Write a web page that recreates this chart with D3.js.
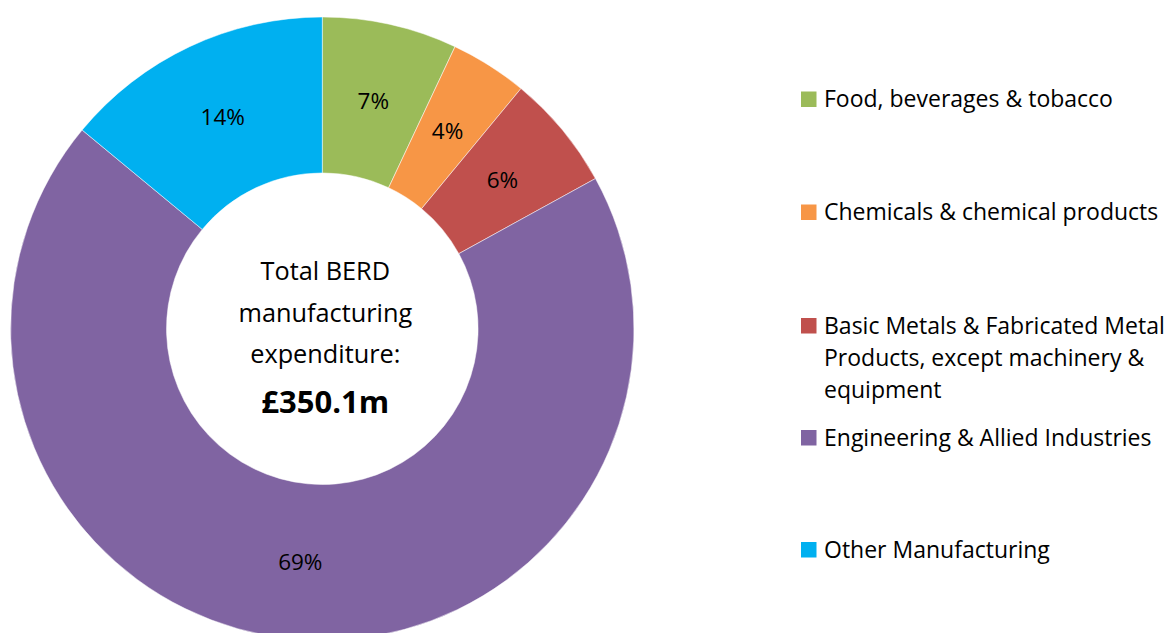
<!DOCTYPE html>
<html>
<head>
<meta charset="utf-8">
<script src="https://cdn.jsdelivr.net/npm/d3@7"></script>
<style>
  html, body { margin: 0; padding: 0; background: #fff; }
  svg text { font-family: "Open Sans", Lato, sans-serif; fill: #000; }
</style>
</head>
<body>
<svg id="chart" width="1175" height="633"></svg>
<script>
// Sector shares of BERD manufacturing expenditure (%)
const sectors = [
  "Food, beverages & tobacco",
  "Chemicals & chemical products",
  "Basic Metals & Fabricated Metal Products, except machinery & equipment",
  "Engineering & Allied Industries",
  "Other Manufacturing"
];
const shares = [7, 4, 6, 69, 14];
const sectorColors = ["#9BBB59", "#F79646", "#C0504D", "#8064A2", "#00B0F0"];
// Legend lines (long names wrap over several lines)
const legendLines = [
  ["Food, beverages & tobacco"],
  ["Chemicals & chemical products"],
  ["Basic Metals & Fabricated Metal", "Products, except machinery &", "equipment"],
  ["Engineering & Allied Industries"],
  ["Other Manufacturing"]
];
const centreLines = ["Total BERD", "manufacturing", "expenditure:"];
const centreTotal = "£350.1m";

const svg = d3.select("#chart");
const cx = 322.3, cy = 328.7, outerR = 311.7, innerR = 155.8;

const data = sectors.map((s, i) => ({ name: s, value: shares[i], color: sectorColors[i] }));

const pie = d3.pie().sort(null).value(d => d.value);
const arc = d3.arc().innerRadius(innerR).outerRadius(outerR);

const g = svg.append("g").attr("transform", `translate(${cx},${cy})`);
const arcs = pie(data);

g.selectAll("path.slice")
  .data(arcs)
  .join("path")
  .attr("class", "slice")
  .attr("d", arc)
  .attr("fill", d => d.data.color)
  .attr("stroke", "#fff")
  .attr("stroke-width", 0.5);

g.selectAll("text.pct")
  .data(arcs)
  .join("text")
  .attr("class", "pct")
  .attr("transform", d => `translate(${arc.centroid(d)})`)
  .attr("text-anchor", "middle")
  .attr("dy", "0.36em")
  .style("font-size", "22.5px")
  .text(d => d3.format(".0f")(d.data.value) + "%");

// Centre caption
const centre = g.append("g").attr("transform", "translate(3,0)");
centreLines.forEach((t, i) => {
  centre.append("text")
    .attr("text-anchor", "middle")
    .attr("y", -48.5 + i * 41.5)
    .style("font-size", "25.3px")
    .text(t);
});
centre.append("text")
  .attr("text-anchor", "middle")
  .attr("y", 84.5)
  .style("font-size", "31px")
  .style("font-weight", "bold")
  .text(centreTotal);

// Legend
const legendRowY = [99, 212, 325.5, 437.5, 549.5];
const legend = svg.append("g");
legendLines.forEach((lines, i) => {
  const row = legend.append("g").attr("transform", `translate(801,${legendRowY[i]})`);
  row.append("rect")
    .attr("x", 0).attr("y", -7.5)
    .attr("width", 15.5).attr("height", 15.5)
    .attr("fill", sectorColors[i]);
  lines.forEach((t, j) => {
    row.append("text")
      .attr("x", 23)
      .attr("y", j * 32)
      .attr("dy", "0.36em")
      .style("font-size", "23px")
      .text(t);
  });
});
</script>
</body>
</html>
